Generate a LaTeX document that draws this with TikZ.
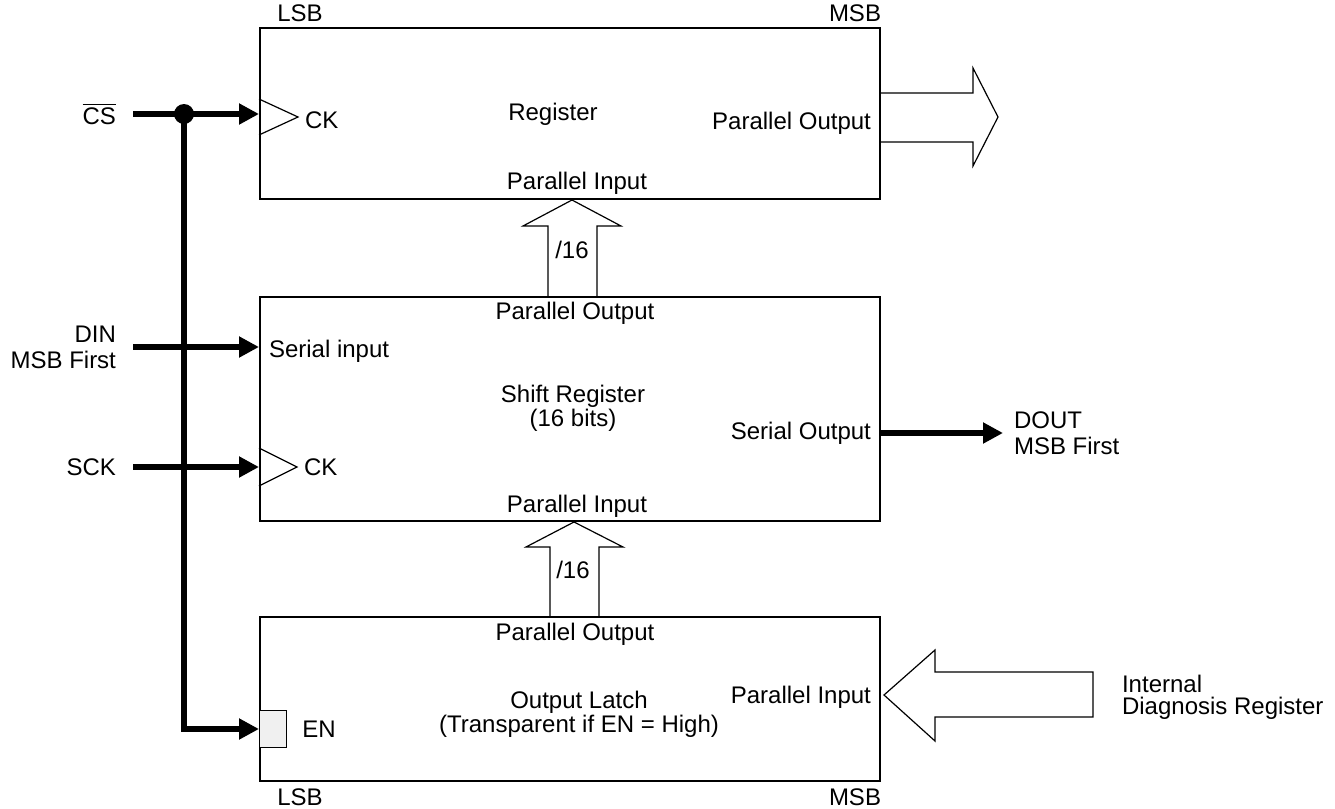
\documentclass[tikz,border=0pt]{standalone}
\usepackage{fontspec}
\setmainfont{Liberation Sans}
\usetikzlibrary{arrows.meta,positioning}

\begin{document}
\begin{tikzpicture}[x=0.5pt, y=-0.5pt,
    every node/.style = {font=\fontsize{12}{13}\selectfont},
    block/.style = {shape=rectangle, draw, line width=1pt,
      minimum width=310pt, inner sep=0pt},
    wire/.style = {line width=2.8pt, -{Triangle[length=10pt,width=10pt]}},
    bus/.style = {line width=0.6pt, line join=miter},
    clk/.style = {line width=0.6pt},
    dot/.style = {shape=circle, fill, inner sep=0pt, minimum size=10pt},
    enbox/.style = {shape=rectangle, draw, fill=black!6, line width=0.6pt,
      minimum width=13.5pt, minimum height=18.5pt, inner sep=0pt, anchor=west}]
    \useasboundingbox (0,0) rectangle (1335,809);

    \node[block, minimum height=85.5pt] (reg) at (570,113.5) {};
    \node[block, minimum height=112pt] (shreg) at (570,409) {};
    \node[block, minimum height=82pt] (latch) at (570,699) {};

    \node (reglsb) at (300,13) {LSB};
    \node (regmsb) at (855,13) {MSB};
    \node (regname) at (553,114) {Register};
    \node[anchor=west] (regck) at (298,120) {CK};
    \node[anchor=east] (regpo) at (878,123) {Parallel Output};
    \node (regpi) at (577,183) {Parallel Input};

    \node (shpo) at (575,313) {Parallel Output};
    \node[anchor=west] (shsi) at (262,351) {Serial input};
    \node[align=center, font=\fontsize{12}{12}\selectfont] (shname) at (573,408) {Shift Register\\(16 bits)};
    \node[anchor=east] (shso) at (878,433) {Serial Output};
    \node[anchor=west] (shck) at (297,467) {CK};
    \node (shpi) at (577,506) {Parallel Input};

    \node (latpo) at (575,634) {Parallel Output};
    \node[align=center, font=\fontsize{12}{12}\selectfont] (latname) at (579,714) {Output Latch\\(Transparent if EN = High)};
    \node[anchor=east] (latpi) at (878,697) {Parallel Input};
    \node[enbox] (en) at (latch.west |- 0,729) {};
    \node (enlbl) at (319,729) {EN};
    \node (latlsb) at (300,797) {LSB};
    \node (latmsb) at (855,797) {MSB};

    \draw[clk] (reg.west |- 0,99) -- (298,117) -- (reg.west |- 0,135);
    \draw[clk] (shreg.west |- 0,448) -- (297,467) -- (shreg.west |- 0,486);

    \coordinate (csin) at (133,114);
    \coordinate (din) at (133,347);
    \coordinate (sck) at (133,467);
    \coordinate (dout) at (1003,433);
    \node[left=5pt of csin] (cslbl) {$\overline{\mbox{CS}}$};
    \node[left=5pt of din, align=right] (dinlbl) {DIN\\MSB First};
    \node[left=5pt of sck] (scklbl) {SCK};
    \node[right=2pt of dout, align=left] (doutlbl) {DOUT\\MSB First};
    \node[anchor=west, align=left, font=\fontsize{12}{11}\selectfont]
      (diaglbl) at (1115,697) {Internal\\Diagnosis Register};

    \node[dot] (jn) at (184,114) {};
    \draw[wire] (csin) -- (reg.west |- csin);
    \draw[wire] (jn.center) |- (en.west);
    \draw[wire] (din) -- (shreg.west |- din);
    \draw[wire] (sck) -- (shreg.west |- sck);
    \draw[wire] (shreg.east |- dout) -- (dout);

    \draw[bus] (reg.east |- 0,93) -- (973,93) -- (973,68) -- (998,117)
      -- (973,166) -- (973,142) -- (reg.east |- 0,142);
    \draw[bus] (548,0 |- shreg.north) -- (548,226) -- (523,226) -- (572,0 |- reg.south)
      -- (621,226) -- (597,226) -- (597,0 |- shreg.north);
    \node (bus1) at (572,250) {/16};
    \draw[bus] (550,0 |- latch.north) -- (550,547) -- (526,547) -- (574,0 |- shreg.south)
      -- (623,547) -- (599,547) -- (599,0 |- latch.north);
    \node (bus2) at (573,570) {/16};
    \draw[bus] (884,695) -- (935,650) -- (935,672) -- (1093,672) -- (1093,717)
      -- (935,717) -- (935,741) -- cycle;
  \end{tikzpicture}
\end{document}
